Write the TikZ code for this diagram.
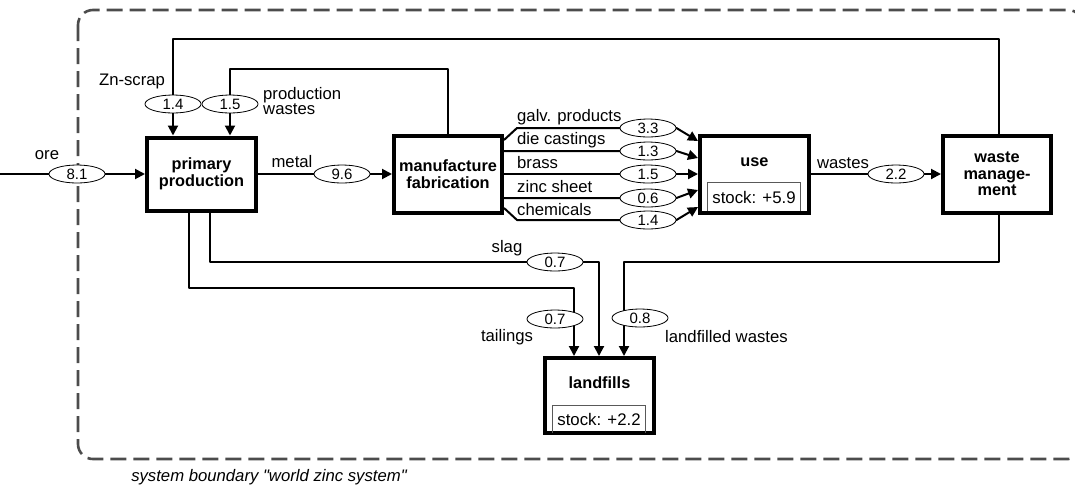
\documentclass[tikz,border=0pt]{standalone}
\usepackage{fontspec}
\setmainfont{Liberation Sans}[Ligatures=TeXOff]
\usetikzlibrary{arrows.meta,calc,shapes.geometric}
\pgfdeclarelayer{bg}
\pgfsetlayers{bg,main}
\begin{document}
\begin{tikzpicture}[x=1pt,y=-1pt,
  box/.style={draw,line width=4pt,minimum width=108pt,minimum height=77pt,inner sep=0pt,
    font=\fontsize{16.3}{16.5}\selectfont\bfseries,align=center},
  boxtext/.style={font=\fontsize{16.3}{16.5}\selectfont\bfseries,inner sep=0pt},
  stockbox/.style={minimum width=92pt,inner sep=0pt,font=\fontsize{16.8}{16}\selectfont},
  stockline/.style={draw=black!65,line width=1.1pt},
  ell/.style={ellipse,draw,line width=0.8pt,fill=white,minimum width=56pt,minimum height=18pt,
    inner sep=0pt,font=\fontsize{15}{15}\selectfont},
  lbl/.style={font=\fontsize{16.7}{16.5}\selectfont,inner sep=0pt},
  flow/.style={line width=2pt,line join=round,-{Triangle[length=10pt,width=10pt]}},
  boundary/.style={draw=black!70,line width=2.6pt,dash pattern=on 16pt off 7pt,rounded corners=15pt}
]
\useasboundingbox (0,0) rectangle (1075,488);

% boxes
\node[box,minimum width=109pt,minimum height=73pt] (pp) at (201.5,174) {primary\\production};
\node[box] (mf) at (448,174) {manufacture\\fabrication};
\node[box,minimum width=109pt] (use) at (754.5,174) {};
\node[box] (wm) at (997,174) {waste\\manage-\\ment};
\node[box,minimum width=109pt,minimum height=75pt] (lf) at (599.5,395.5) {};
\node[boxtext] (uset) at (754.5,162) {use};
\node[boxtext] (lft) at (599.5,383) {landfills};
\node[stockbox,minimum height=28pt] (ust) at (754,197) {stock: +5.9};
\draw[stockline] (ust.south west) |- (ust.north east) -- (ust.south east);
\node[stockbox,minimum height=27pt] (lst) at (599,419.5) {stock: +2.2};
\draw[stockline] (lst.south west) |- (lst.north east) -- (lst.south east);

% value ellipses
\node[ell] (e81) at (77,174) {8.1};
\node[ell] (e14) at (173,104) {1.4};
\node[ell] (e15) at (230,104) {1.5};
\node[ell] (e96) at (342,174) {9.6};
\node[ell] (e33) at (648,128) {3.3};
\node[ell] (e13) at (648,151) {1.3};
\node[ell] (e15b) at (648,174) {1.5};
\node[ell] (e06) at (648,198) {0.6};
\node[ell] (e14b) at (648,220) {1.4};
\node[ell] (e22) at (896,174) {2.2};
\node[ell] (e07a) at (555,262) {0.7};
\node[ell] (e07b) at (555,319) {0.7};
\node[ell] (e08) at (640,318) {0.8};

% helper coordinates
\coordinate (orein) at (0,174);
\coordinate (zs1) at (999,39);
\coordinate (zs2) at (173,39);
\coordinate (pw1) at (448,69);
\coordinate (pw2) at (230,69);
\coordinate (sl1) at (210,262);
\coordinate (sl2) at (599,262);
\coordinate (ta1) at (189,288);
\coordinate (ta2) at (574,288);
\coordinate (lw1) at (999,262);
\coordinate (lw2) at (624,262);
\coordinate (g1) at (517,128);
\coordinate (c1) at (517,220);

\begin{pgfonlayer}{bg}
\draw[boundary] (78,10) rectangle (1083,459);
\draw[flow] (orein) -- (pp.west);
\draw[flow] (pp.east) -- (pp.east -| mf.west);
\draw[flow] (wm.north -| zs1) -- (zs1) -- (zs2) -- (zs2 |- pp.north);
\draw[flow] (mf.north) -- (pw1) -- (pw2) -- (pw2 |- pp.north);
\draw[flow] ($(mf.east)+(0,-34)$) -- (g1) -- (e33.east) -- ($(use.west)+(0,-33)$);
\draw[flow] ($(mf.east)+(0,-23)$) -- (e13.east) -- ($(use.west)+(0,-16)$);
\draw[flow] (mf.east) -- (e15b.east) -- (use.west);
\draw[flow] ($(mf.east)+(0,24)$) -- (e06.east) -- ($(use.west)+(0,16)$);
\draw[flow] ($(mf.east)+(0,34)$) -- (c1) -- (e14b.east) -- ($(use.west)+(0,33)$);
\draw[flow] (use.east) -- (wm.west);
\draw[flow] (pp.south -| sl1) -- (sl1) -- (sl2) -- (sl2 |- lf.north);
\draw[flow] (pp.south -| ta1) -- (ta1) -- (ta2) -- (ta2 |- lf.north);
\draw[flow] (wm.south -| lw1) -- (lw1) -- (lw2) -- (lw2 |- lf.north);
\end{pgfonlayer}

% labels
\node[lbl] (lore) at (47,155) {ore};
\node[lbl] (lzn) at (132,81) {Zn-scrap};
\node[lbl,anchor=west,align=left,font=\fontsize{16.7}{14}\selectfont] (lpw) at (263,101) {production\\wastes};
\node[lbl] (lmet) at (292,162) {metal};
\node[lbl,anchor=west] (lgalv) at (517,117) {galv. products};
\node[lbl,anchor=west] (ldie) at (517,140) {die castings};
\node[lbl,anchor=west] (lbr) at (517,163) {brass};
\node[lbl,anchor=west] (lzs) at (517,187) {zinc sheet};
\node[lbl,anchor=west] (lch) at (517,210) {chemicals};
\node[lbl] (lwa) at (843,163) {wastes};
\node[lbl] (lslag) at (507,248) {slag};
\node[lbl] (ltail) at (507,337) {tailings};
\node[lbl,anchor=west] (llw) at (665,337) {landfilled wastes};
\node[lbl,font=\fontsize{16.7}{16}\selectfont\itshape] (lsys) at (269,477) {system boundary "world zinc system"};
\end{tikzpicture}
\end{document}
